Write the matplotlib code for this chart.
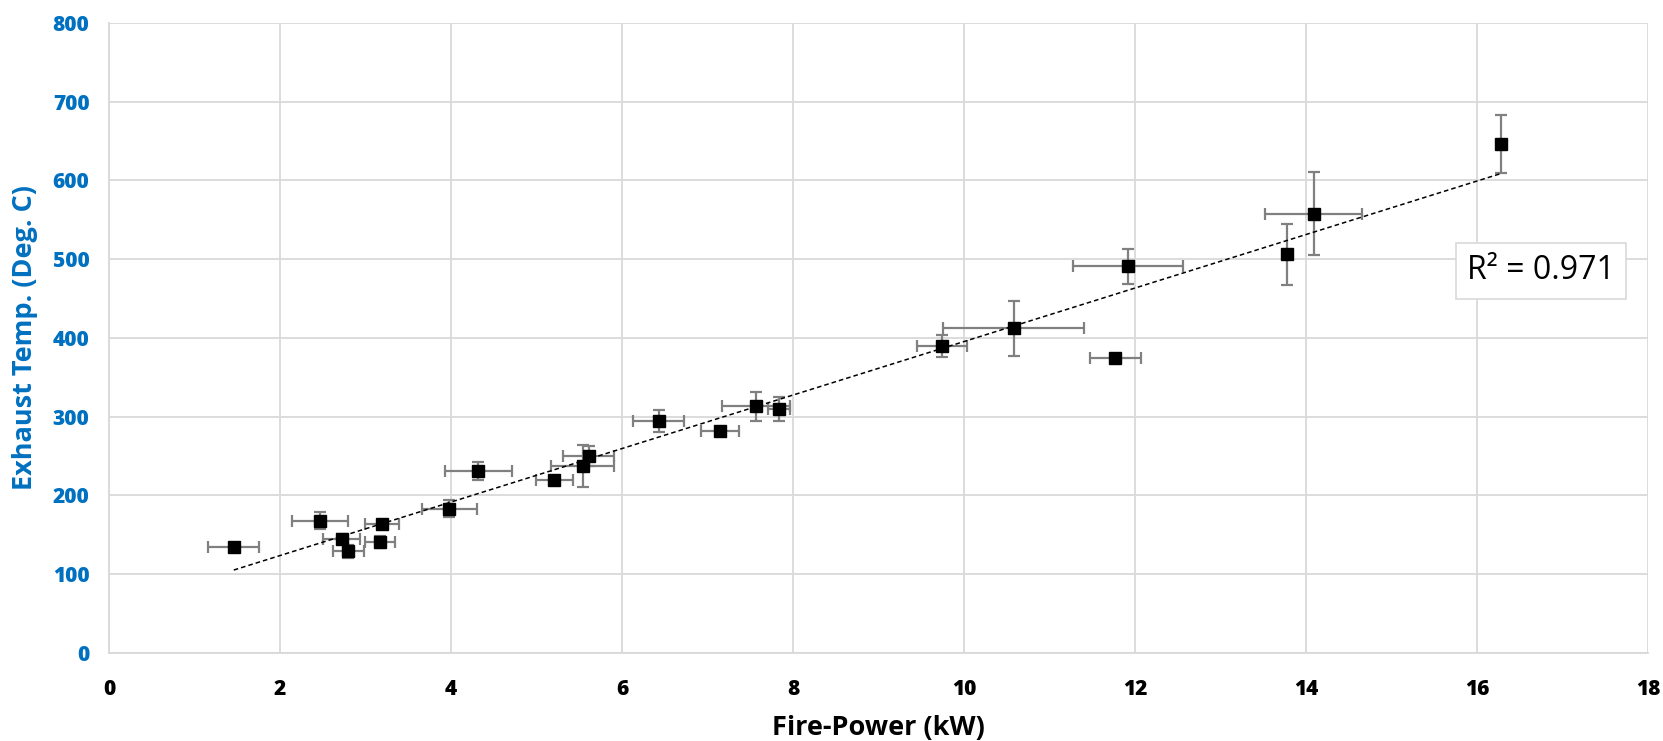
import numpy as np
import matplotlib
matplotlib.use("Agg")
import matplotlib.pyplot as plt

# fire power (kW), exhaust temp (deg C) and their error bars
fire_power = [1.46, 2.47, 2.72, 2.80, 3.19, 3.17, 3.98, 4.32, 5.21, 5.54, 5.61,
              6.43, 7.15, 7.57, 7.84, 9.74, 10.58, 11.77, 11.92, 13.78, 14.09, 16.28]
exhaust_temp = [135, 168, 145, 129, 163, 141, 183, 231, 220, 237, 250,
                294, 282, 313, 310, 390, 412, 374, 491, 506, 558, 646]
power_err = [0.30, 0.33, 0.22, 0.18, 0.20, 0.17, 0.32, 0.39, 0.22, 0.37, 0.30,
             0.30, 0.22, 0.40, 0.13, 0.29, 0.82, 0.30, 0.64, 0.05, 0.57, 0.05]
temp_err = [4, 11, 6, 8, 6, 8, 11, 12, 4, 27, 13,
            14, 4, 18, 15, 14, 35, 3, 22, 39, 53, 37]

x_ticks = [0, 2, 4, 6, 8, 10, 12, 14, 16, 18]
y_ticks = [0, 100, 200, 300, 400, 500, 600, 700, 800]

plt.rcParams["font.family"] = ["Open Sans", "DejaVu Sans"]
BLUE = "#0070C0"
GRID = "#D9D9D9"

fig = plt.figure(figsize=(16.63, 7.41), dpi=100)
ax = fig.add_axes([0.0655, 0.119, 0.9255, 0.85])

ax.errorbar(fire_power, exhaust_temp, xerr=power_err, yerr=temp_err,
            fmt="s", color="black", markersize=8.5, ecolor="#808080",
            elinewidth=1.6, capsize=4.5, capthick=1.6, zorder=3)

# linear trendline over the data range
slope, intercept = np.polyfit(fire_power, exhaust_temp, 1)
xs = np.array([min(fire_power), max(fire_power)])
ax.plot(xs, slope * xs + intercept, color="black", linestyle=(0, (3, 2)),
        linewidth=1.1, zorder=4)

ax.text(16.75, 485, "R² = 0.971", fontsize=23,
        ha="center", va="center", zorder=5,
        bbox=dict(boxstyle="square,pad=0.35", fc="white", ec=GRID, lw=1.2))

ax.set_xlim(0, 18)
ax.set_ylim(0, 800)
ax.set_xticks(x_ticks)
ax.set_yticks(y_ticks)
ax.grid(True, color=GRID, linewidth=1.3)
ax.set_axisbelow(True)
for side in ["top", "right"]:
    ax.spines[side].set_visible(False)
for side in ["left", "bottom"]:
    ax.spines[side].set_color(GRID)
    ax.spines[side].set_linewidth(1.3)
ax.tick_params(axis="x", length=0, pad=19)
ax.tick_params(axis="y", length=0, pad=14)
for lbl in ax.get_xticklabels():
    lbl.set_fontsize(15)
    lbl.set_fontweight("heavy")
for lbl in ax.get_yticklabels():
    lbl.set_fontsize(15)
    lbl.set_fontweight("heavy")
    lbl.set_color(BLUE)

ax.set_xlabel("Fire-Power (kW)", fontsize=19.5, fontweight="bold", va="center")
ax.xaxis.set_label_coords(0.5, -0.119)
ax.set_ylabel("Exhaust Temp. (Deg. C)", fontsize=19.5, fontweight="bold",
              color=BLUE, va="center")
ax.yaxis.set_label_coords(-0.0546, 0.5)

plt.savefig("out.png", dpi=100)
plt.close()
